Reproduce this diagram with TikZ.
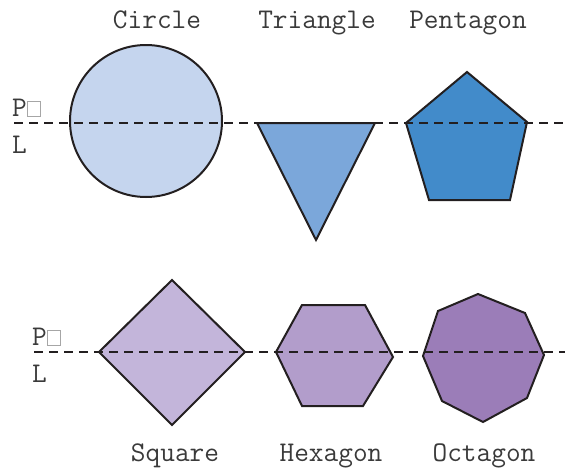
\documentclass[tikz,border=0pt]{standalone}
\usepackage{fontspec}
\definecolor{cCircle}{HTML}{C5D5EE}
\definecolor{cTri}{HTML}{7BA7DA}
\definecolor{cPent}{HTML}{428BCA}
\definecolor{cSq}{HTML}{C3B5DA}
\definecolor{cHex}{HTML}{B29DCB}
\definecolor{cOct}{HTML}{9B7DB8}
\definecolor{cLine}{HTML}{231F20}
\definecolor{cText}{HTML}{3A3A3A}
\newcommand\tofubox{{\color{black!35}\setlength{\fboxsep}{0pt}\setlength{\fboxrule}{0.7pt}\fbox{\rule{0pt}{0.5em}\hspace{0.44em}}}}
\tikzset{
  shapeline/.style={draw=cLine, line width=2pt, line join=miter},
  cutline/.style={draw=cLine, line width=2.3pt, dash pattern=on 9pt off 6pt},
  lbl/.style={font=\fontsize{28.5}{32}\selectfont\ttfamily, text=cText, inner sep=0pt},
}
\begin{document}
\begin{tikzpicture}[x=1pt, y=-1pt]
\useasboundingbox (0,0) rectangle (571,469);
% top row shapes
\draw[shapeline, fill=cCircle] (146,121) circle[radius=76];
\draw[shapeline, fill=cTri] (257,123) -- (375,123) -- (316,240) -- cycle;
\draw[shapeline, fill=cPent] (467,72) -- (527,122) -- (510,200) -- (429,200) -- (406,123) -- cycle;
% bottom row shapes
\draw[shapeline, fill=cSq] (172,280) -- (245,352) -- (172,425) -- (99,352) -- cycle;
\draw[shapeline, fill=cHex] (302,305) -- (365,305) -- (393,357) -- (363,406) -- (302,406) -- (276,352) -- cycle;
\draw[shapeline, fill=cOct] (478,294) -- (525,313) -- (544,355) -- (527,398) -- (483,422) -- (442,401) -- (423,356) -- (438,311) -- cycle;
% cut lines
\coordinate (a1) at (14,123);
\coordinate (a2) at (565,123);
\coordinate (b1) at (34,352);
\coordinate (b2) at (565,352);
\draw[cutline] (a1) -- (a2);
\draw[cutline] (b1) -- (b2);
% left labels
\node[lbl, anchor=base west] (p1) at (12,116) {P\tofubox};
\node[lbl, anchor=base west] (l1) at (12,153) {L};
\node[lbl, anchor=base west] (p2) at (32,345) {P\tofubox};
\node[lbl, anchor=base west] (l2) at (32,382) {L};
% shape names
\node[lbl, anchor=base] (nCircle) at (157,28) {Circle};
\node[lbl, anchor=base] (nTri) at (317,28) {Triangle};
\node[lbl, anchor=base] (nPent) at (468,28) {Pentagon};
\node[lbl, anchor=base] (nSq) at (175,461) {Square};
\node[lbl, anchor=base] (nHex) at (331,461) {Hexagon};
\node[lbl, anchor=base] (nOct) at (484,461) {Octagon};
\end{tikzpicture}
\end{document}
